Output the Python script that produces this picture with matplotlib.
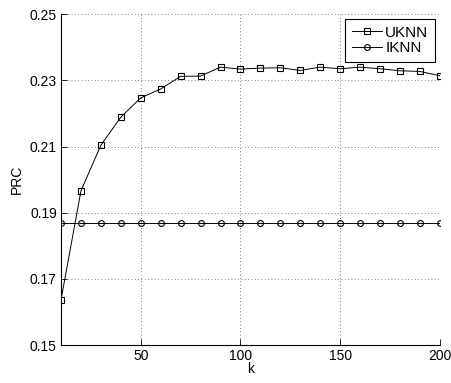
import matplotlib
matplotlib.use("Agg")
import matplotlib.pyplot as plt

plt.rcParams['font.family'] = ['Liberation Sans', 'DejaVu Sans']

k = [10, 20, 30, 40, 50, 60, 70, 80, 90, 100, 110, 120, 130, 140, 150, 160, 170, 180, 190, 200]
uknn = [0.1637, 0.1966, 0.2104, 0.2189, 0.2247, 0.2274, 0.2312, 0.2313, 0.2340, 0.2334,
        0.2337, 0.2338, 0.2330, 0.2340, 0.2335, 0.2340, 0.2335, 0.2329, 0.2327, 0.2314]
iknn = [0.1869] * len(k)
xticks = [50, 100, 150, 200]
yticks = [0.15, 0.17, 0.19, 0.21, 0.23, 0.25]

fig = plt.figure(figsize=(4.52, 3.83), dpi=100)
ax = fig.add_axes([0.135, 0.099, 0.838, 0.864])

ax.plot(k, uknn, color='black', lw=0.7, marker='s', ms=4, mfc='none', mew=0.8, label='UKNN')
ax.plot(k, iknn, color='black', lw=0.7, marker='o', ms=4.2, mfc='none', mew=0.8, label='IKNN')

ax.set_xlim(10, 200)
ax.set_ylim(0.15, 0.25)
ax.set_xticks(xticks)
ax.set_yticks(yticks)
ax.set_yticklabels([f"{v:.2f}" for v in yticks])
ax.grid(True, linestyle=(0, (1, 3)), color='#555555', lw=0.6)
ax.spines['top'].set_visible(False)
ax.spines['right'].set_visible(False)
ax.spines['left'].set_linewidth(0.8)
ax.spines['bottom'].set_linewidth(0.8)
ax.tick_params(direction='in', labelsize=10, length=4, width=0.6, pad=3)
ax.set_xlabel('k', fontsize=10, labelpad=-1)
ax.set_ylabel('PRC', fontsize=10, labelpad=4)

leg = ax.legend(loc='upper right', fontsize=11, fancybox=False, framealpha=1,
                edgecolor='black', borderaxespad=0.3, handlelength=2.0,
                handletextpad=0.2, borderpad=0.45, labelspacing=0.12)
leg.get_frame().set_linewidth(0.8)

fig.savefig('out.png', dpi=100)
